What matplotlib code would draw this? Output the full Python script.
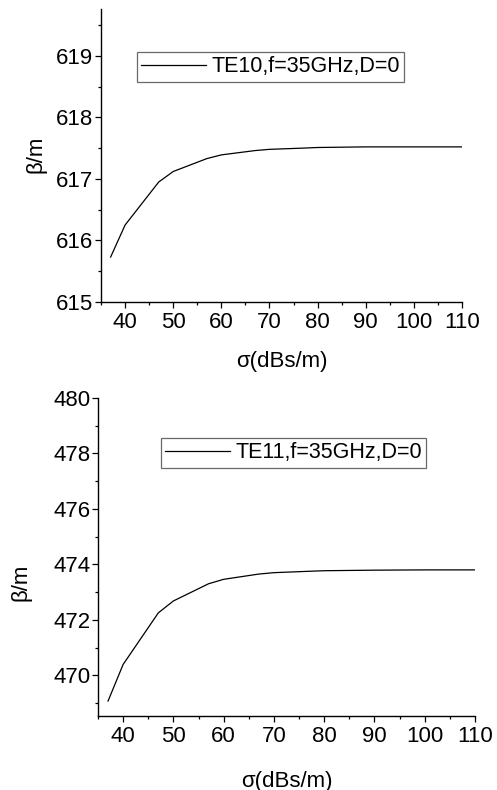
import matplotlib
matplotlib.use("Agg")
import matplotlib.pyplot as plt
from matplotlib.ticker import MultipleLocator

plt.rcParams['font.family'] = ['Liberation Sans', 'DejaVu Sans']

# conductivity sweep (dB S/m) and propagation constant for each mode
sigma = [37, 40, 47, 50, 57, 60, 67, 70, 77, 80, 90, 100, 110]
beta_te10 = [615.73, 616.25, 616.95, 617.12, 617.33, 617.39, 617.46,
             617.48, 617.50, 617.51, 617.52, 617.52, 617.52]
beta_te11 = [469.07, 470.39, 472.25, 472.68, 473.30, 473.46, 473.65,
             473.70, 473.75, 473.77, 473.79, 473.80, 473.80]

label_te10 = "TE10,f=35GHz,D=0"
label_te11 = "TE11,f=35GHz,D=0"

W, H = 497, 790
fig = plt.figure(figsize=(W / 100, H / 100), dpi=100)


def px_axes(l, t, r, b):
    return fig.add_axes([l / W, 1 - b / H, (r - l) / W, (b - t) / H])


def style(ax, ylim, ymaj, ymin, xlab_at, ylab_at):
    ax.set_xlim(35, 110)
    ax.set_ylim(*ylim)
    ax.xaxis.set_major_locator(MultipleLocator(10))
    ax.xaxis.set_minor_locator(MultipleLocator(5))
    ax.yaxis.set_major_locator(MultipleLocator(ymaj))
    ax.yaxis.set_minor_locator(MultipleLocator(ymin))
    for s in ("top", "right"):
        ax.spines[s].set_visible(False)
    for s in ("left", "bottom"):
        ax.spines[s].set_linewidth(1.0)
    ax.tick_params(which="major", direction="out", length=4.5, width=0.9,
                   labelsize=16)
    ax.tick_params(axis="x", which="major", pad=3)
    ax.tick_params(axis="y", which="major", pad=1)
    ax.tick_params(which="minor", direction="out", length=2.5, width=0.9)
    ax.set_xlabel("σ(dBs/m)", fontsize=16, va="center")
    ax.set_ylabel("β/m", fontsize=16, va="center")
    # label centres given in pixels from the top-left corner
    ax.xaxis.set_label_coords(xlab_at[0] / W, 1 - xlab_at[1] / H,
                              transform=fig.transFigure)
    ax.yaxis.set_label_coords(ylab_at[0] / W, 1 - ylab_at[1] / H,
                              transform=fig.transFigure)


def add_legend(ax, x0, y0):
    leg = ax.legend(loc="upper left", bbox_to_anchor=(x0 / W, 1 - y0 / H),
                    bbox_transform=fig.transFigure, borderaxespad=0,
                    fontsize=15.5, frameon=True, fancybox=False,
                    handlelength=3.0, handletextpad=0.25, borderpad=0.2)
    leg.get_frame().set_edgecolor("#444444")
    leg.get_frame().set_linewidth(0.9)


ax1 = px_axes(101, 9, 462, 302)
ax1.plot(sigma, beta_te10, color="black", lw=0.9, label=label_te10)
style(ax1, (615, 619.76), 1, 0.5, (282, 362), (36, 154))
add_legend(ax1, 137, 52)

ax2 = px_axes(98, 398, 475, 716)
ax2.plot(sigma, beta_te11, color="black", lw=0.9, label=label_te11)
style(ax2, (468.53, 480), 2, 1, (287, 781), (21, 582))
add_legend(ax2, 161, 438)

fig.savefig("out.png", dpi=100)
